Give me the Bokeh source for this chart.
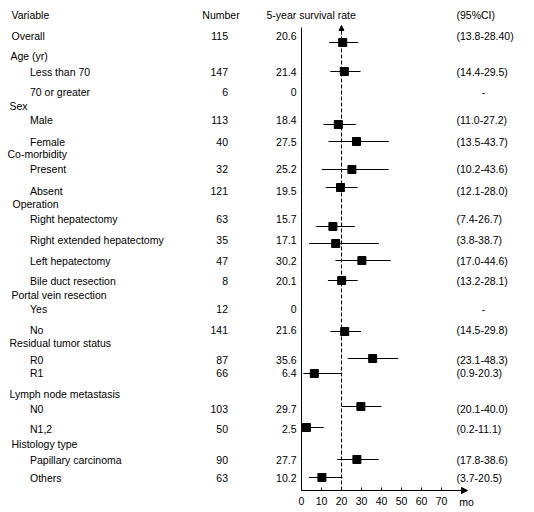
from bokeh.plotting import figure
from bokeh.models import (Range1d, LinearAxis, FixedTicker, Arrow, NormalHead,
                          ColumnDataSource)
from bokeh.core.properties import value
from bokeh.embed import file_html
from bokeh.resources import INLINE

# ---------------- data ----------------
variables = ["Overall", "Age (yr)", "Less than 70", "70 or greater", "Sex", "Male", "Female",
             "Co-morbidity", "Present", "Absent", "Operation", "Right hepatectomy",
             "Right extended hepatectomy", "Left hepatectomy", "Bile duct resection",
             "Portal vein resection", "Yes", "No", "Residual tumor status", "R0", "R1",
             "Lymph node metastasis", "N0", "N1,2", "Histology type", "Papillary carcinoma",
             "Others"]
numbers = [115, None, 147, 6, None, 113, 40, None, 32, 121, None, 63, 35, 47, 8, None, 12, 141,
           None, 87, 66, None, 103, 50, None, 90, 63]
rates = ["20.6", None, "21.4", "0", None, "18.4", "27.5", None, "25.2", "19.5", None, "15.7",
         "17.1", "30.2", "20.1", None, "0", "21.6", None, "35.6", "6.4", None, "29.7", "2.5",
         None, "27.7", "10.2"]
ci_low = ["13.8", None, "14.4", None, None, "11.0", "13.5", None, "10.2", "12.1", None, "7.4",
          "3.8", "17.0", "13.2", None, None, "14.5", None, "23.1", "0.9", None, "20.1", "0.2",
          None, "17.8", "3.7"]
ci_high = ["28.40", None, "29.5", None, None, "27.2", "43.7", None, "43.6", "28.0", None, "26.7",
           "38.7", "44.6", "28.1", None, None, "29.8", None, "48.3", "20.3", None, "40.0", "11.1",
           None, "38.6", "20.5"]
headers = ["Variable", "Number", "5-year survival rate", "(95%CI)"]
x_ticks = [0, 10, 20, 30, 40, 50, 60, 70]
x_unit = "mo"
reference_rate = 20

# ---------------- layout (picture pixels) ----------------
is_sub = [False, False, True, True, False, True, True, False, True, True, False, True, True, True,
          True, False, True, True, False, True, True, False, True, True, False, True, True]
group_px = [11, 10, 0, 0, 9, 0, 0, 7, 0, 0, 12, 0, 0, 0, 0, 11, 0, 0, 9, 0, 0, 9, 0, 0, 11, 0, 0]
row_y = [35, 55, 71, 91, 105, 119, 141, 153, 168, 190, 203, 218, 239, 260, 280, 294, 308, 329,
         342, 359, 372, 393, 408, 428, 443, 459, 477]
mark_y = [42, None, 71, None, None, 124, 141, None, 169, 187, None, 226, 243, 260, 280, None,
          None, 331, None, 358, 373, None, 406, 427, None, 459, 477]

W, H = 534, 512
ZERO_PX = 301.0      # picture x of value 0
PX_PER_UNIT = 2.0
AXIS_Y = 490
HEADER_Y = 14
FONT = "Liberation Sans"
FS = "10.5px"


def vx(px):
    return (px - ZERO_PX) / PX_PER_UNIT


p = figure(width=W, height=H, output_backend="svg", toolbar_location=None,
           x_range=Range1d(vx(0), vx(W)), y_range=Range1d(H, 0),
           x_axis_type=None, y_axis_type=None,
           min_border_left=0, min_border_right=0, min_border_top=0, min_border_bottom=0)
p.outline_line_color = None
p.grid.visible = False
p.background_fill_color = "white"
p.border_fill_color = "white"

# x axis (library axis) drawn at a fixed location, with arrow
ax = LinearAxis(ticker=FixedTicker(ticks=x_ticks), bounds=(0, 82), fixed_location=AXIS_Y,
                axis_line_color="black", axis_line_width=1,
                major_tick_in=3, major_tick_out=0, major_tick_line_color="black",
                minor_tick_line_color=None,
                major_label_text_font=FONT, major_label_text_font_size=FS,
                major_label_text_color="black", major_label_standoff=6)
p.add_layout(ax, "below")
p.add_layout(Arrow(x_start=78, y_start=AXIS_Y, x_end=83, y_end=AXIS_Y,
                   line_color="black", line_width=1,
                   end=NormalHead(size=6, fill_color="black", line_color="black", line_width=1)))
p.text(x=[vx(466)], y=[501], text=[x_unit], text_align="center", text_baseline="middle",
       text_font=value(FONT), text_font_size=FS, text_color="black")

# vertical axis line at value 0
p.segment(x0=[0], y0=[AXIS_Y], x1=[0], y1=[27], line_color="black", line_width=1)

# reference dashed line with arrow
p.add_layout(Arrow(x_start=reference_rate, y_start=AXIS_Y, x_end=reference_rate, y_end=25,
                   line_color="black", line_width=1, line_dash="4 2",
                   end=NormalHead(size=5, fill_color="black", line_color="black", line_width=1)))

# headers
hx = [vx(11), vx(220.5), vx(266), vx(456)]
halign = ["left", "center", "left", "left"]
for t, x, a in zip(headers, hx, halign):
    p.text(x=[x], y=[HEADER_Y], text=[t], text_align=a, text_baseline="middle",
           text_font=value(FONT), text_font_size=FS, text_color="black")

# variable labels
lab_x = [vx(29.5) if s else vx(g) for s, g in zip(is_sub, group_px)]
p.text(x=lab_x, y=row_y, text=variables, text_align="left", text_baseline="middle",
       text_font=value(FONT), text_font_size=FS, text_color="black")

# numbers, rates, CI text
n_y, n_t, r_y, r_t, c_y, c_t, c_x, c_a = [], [], [], [], [], [], [], []
for i in range(len(variables)):
    if numbers[i] is not None:
        n_y.append(row_y[i]); n_t.append(str(numbers[i]))
    if rates[i] is not None:
        r_y.append(row_y[i]); r_t.append(rates[i])
        if ci_low[i] is not None:
            c_t.append("(%s-%s)" % (ci_low[i], ci_high[i])); c_x.append(vx(456)); c_a.append("left")
        else:
            c_t.append("-"); c_x.append(vx(483)); c_a.append("center")
        c_y.append(row_y[i])

p.text(x=[vx(227.5)] * len(n_y), y=n_y, text=n_t, text_align="right", text_baseline="middle",
       text_font=value(FONT), text_font_size=FS, text_color="black")
p.text(x=[vx(296)] * len(r_y), y=r_y, text=r_t, text_align="right", text_baseline="middle",
       text_font=value(FONT), text_font_size=FS, text_color="black")
csrc = ColumnDataSource(dict(x=c_x, y=c_y, t=c_t, a=c_a))
p.text(x="x", y="y", text="t", text_align="a", text_baseline="middle", source=csrc,
       text_font=value(FONT), text_font_size=FS, text_color="black")

# forest marks
m_x, m_y, lo, hi = [], [], [], []
for i in range(len(variables)):
    if ci_low[i] is not None and rates[i] is not None:
        m_x.append(float(rates[i])); m_y.append(mark_y[i])
        lo.append(float(ci_low[i])); hi.append(float(ci_high[i]))
msrc = ColumnDataSource(dict(x=m_x, y=m_y, lo=lo, hi=hi))
p.segment(x0="lo", y0="y", x1="hi", y1="y", source=msrc, line_color="black", line_width=1)
p.scatter(x="x", y="y", source=msrc, marker="square", size=8,
          fill_color="black", line_color="black")

open("out.html", "w").write(file_html(p, INLINE))
